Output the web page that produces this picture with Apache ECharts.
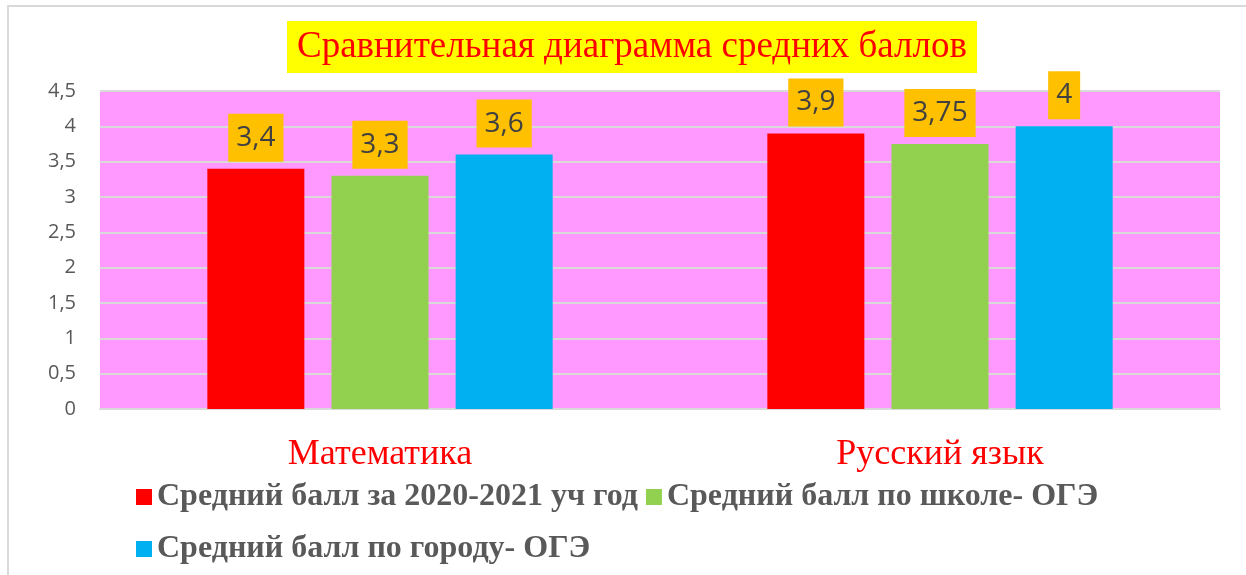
<!DOCTYPE html>
<html>
<head>
<meta charset="utf-8">
<script src="https://cdn.jsdelivr.net/npm/echarts@6/dist/echarts.min.js"></script>
<style>
  html, body { margin: 0; padding: 0; background: #ffffff; }
  #chart { width: 1246px; height: 575px; }
</style>
</head>
<body>
<div id="chart"></div>
<script>
// Subjects along the category axis
const subjects = ['Математика', 'Русский язык'];

// Series names
const seriesNames = [
  'Средний балл за 2020-2021 уч год',
  'Средний балл по школе- ОГЭ',
  'Средний балл по городу- ОГЭ'
];

// Average scores per subject
const yearAvg = [3.4, 3.9];
const schoolAvg = [3.3, 3.75];
const cityAvg = [3.6, 4];

const seriesColors = ['#ff0000', '#92d050', '#00b0f0'];

const comma = v => String(v).replace('.', ',');

const chart = echarts.init(document.getElementById('chart'), null, { renderer: 'canvas' });

function makeSeries(name, data, color) {
  return {
    name: name,
    type: 'bar',
    data: data,
    barWidth: 97,
    barGap: '28%',
    itemStyle: { color: color },
    label: {
      show: true,
      position: 'top',
      distance: 7,
      formatter: p => comma(p.value),
      backgroundColor: '#ffc000',
      padding: [8, 8, 8, 8],
      color: '#404040',
      fontFamily: 'Open Sans',
      fontSize: 28,
      lineHeight: 32
    }
  };
}

const legendText = {
  color: '#595959',
  fontFamily: 'Liberation Serif',
  fontWeight: 'bold',
  fontSize: 32,
  lineHeight: 32
};

chart.setOption({
  animation: false,
  backgroundColor: '#ffffff',
  graphic: [{
    type: 'rect',
    shape: { x: 8, y: 6, width: 1300, height: 700 },
    style: { fill: 'none', stroke: '#d9d9d9', lineWidth: 2 },
    silent: true,
    z: -1
  }],
  title: {
    text: 'Сравнительная диаграмма средних баллов',
    left: 287,
    top: 21,
    padding: [6, 10],
    backgroundColor: '#ffff00',
    textStyle: {
      color: '#ff0000',
      fontFamily: 'Liberation Serif',
      fontWeight: 'normal',
      fontSize: 37,
      lineHeight: 40
    }
  },
  legend: [{
    data: seriesNames.slice(0, 2),
    left: 131,
    top: 476,
    itemWidth: 16,
    itemHeight: 16,
    itemGap: 8,
    icon: 'rect',
    textStyle: legendText
  }, {
    data: seriesNames.slice(2),
    left: 131,
    top: 528,
    itemWidth: 16,
    itemHeight: 16,
    icon: 'rect',
    textStyle: legendText
  }],
  grid: {
    left: 100,
    right: 26,
    top: 91,
    bottom: 166,
    show: true,
    backgroundColor: '#ff99ff',
    borderWidth: 0
  },
  xAxis: {
    type: 'category',
    data: subjects,
    axisTick: { show: false },
    axisLine: { show: true, lineStyle: { color: '#d9d9d9', width: 2 } },
    axisLabel: {
      color: '#ff0000',
      fontFamily: 'Liberation Serif',
      fontSize: 36,
      margin: 28
    }
  },
  yAxis: {
    type: 'value',
    min: 0,
    max: 4.5,
    interval: 0.5,
    axisLine: { show: false },
    axisTick: { show: false },
    splitLine: { lineStyle: { color: '#d9d9d9', width: 2 } },
    axisLabel: {
      color: '#595959',
      fontFamily: 'Open Sans',
      fontSize: 20,
      margin: 24,
      formatter: v => comma(v)
    }
  },
  series: [
    makeSeries(seriesNames[0], yearAvg, seriesColors[0]),
    makeSeries(seriesNames[1], schoolAvg, seriesColors[1]),
    makeSeries(seriesNames[2], cityAvg, seriesColors[2])
  ]
});
</script>
</body>
</html>
